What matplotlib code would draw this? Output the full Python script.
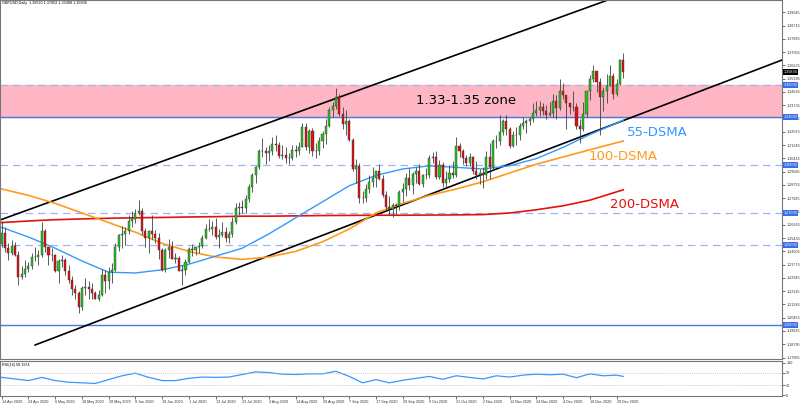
import numpy as np
import matplotlib
matplotlib.use("Agg")
import matplotlib.pyplot as plt
import matplotlib.transforms as mtransforms

# daily bars, 14 Apr 2020 .. 31 Dec 2020
opens = [1.2505, 1.2575, 1.2480, 1.2450, 1.2495, 1.2440, 1.2300, 1.2320, 1.2350, 1.2370,
         1.2425, 1.2425, 1.2440, 1.2590, 1.2490, 1.2440, 1.2435, 1.2340, 1.2400, 1.2405,
         1.2335, 1.2280, 1.2225, 1.2200, 1.2110, 1.2230, 1.2240, 1.2225, 1.2200, 1.2165,
         1.2185, 1.2315, 1.2275, 1.2330, 1.2345, 1.2490, 1.2565, 1.2570, 1.2590, 1.2650,
         1.2660, 1.2700, 1.2715, 1.2590, 1.2545, 1.2585, 1.2570, 1.2545, 1.2470, 1.2345,
         1.2470, 1.2490, 1.2415, 1.2420, 1.2335, 1.2345, 1.2395, 1.2475, 1.2470, 1.2485,
         1.2495, 1.2545, 1.2600, 1.2600, 1.2615, 1.2550, 1.2565, 1.2580, 1.2545, 1.2570,
         1.2645, 1.2730, 1.2740, 1.2730, 1.2790, 1.2865, 1.2935, 1.2985, 1.3085, 1.3085,
         1.3075, 1.3085, 1.3130, 1.3125, 1.3055, 1.3065, 1.3045, 1.3045, 1.3095, 1.3085,
         1.3115, 1.3240, 1.3110, 1.3215, 1.3085, 1.3085, 1.3150, 1.3195, 1.3245, 1.3345,
         1.3370, 1.3425, 1.3320, 1.3255, 1.3275, 1.3155, 1.2975, 1.2995, 1.2795, 1.2795,
         1.2850, 1.2895, 1.2920, 1.2960, 1.2915, 1.2815, 1.2735, 1.2725, 1.2750, 1.2745,
         1.2830, 1.2850, 1.2920, 1.2875, 1.2945, 1.2965, 1.2880, 1.2935, 1.2940, 1.3045,
         1.3050, 1.2925, 1.3000, 1.2890, 1.2915, 1.2950, 1.2940, 1.3120, 1.3085, 1.3045,
         1.3010, 1.3050, 1.2965, 1.2935, 1.2950, 1.2940, 1.3050, 1.2985, 1.3150, 1.3150,
         1.3205, 1.3275, 1.3225, 1.3120, 1.3185, 1.3190, 1.3245, 1.3260, 1.3275, 1.3285,
         1.3325, 1.3345, 1.3365, 1.3335, 1.3315, 1.3325, 1.3400, 1.3355, 1.3460, 1.3440,
         1.3385, 1.3360, 1.3365, 1.3245, 1.3225, 1.3320, 1.3460, 1.3535, 1.3585, 1.3520,
         1.3425, 1.3460, 1.3495, 1.3555, 1.3445, 1.3505, 1.3659]
highs = [1.2647, 1.2615, 1.2510, 1.2530, 1.2520, 1.2460, 1.2370, 1.2405, 1.2395, 1.2450,
         1.2485, 1.2470, 1.2645, 1.2600, 1.2490, 1.2480, 1.2445, 1.2415, 1.2440, 1.2420,
         1.2375, 1.2305, 1.2250, 1.2210, 1.2245, 1.2295, 1.2275, 1.2265, 1.2215, 1.2220,
         1.2350, 1.2345, 1.2365, 1.2385, 1.2510, 1.2570, 1.2620, 1.2610, 1.2690, 1.2710,
         1.2725, 1.2780, 1.2730, 1.2605, 1.2595, 1.2690, 1.2595, 1.2575, 1.2480, 1.2480,
         1.2540, 1.2525, 1.2450, 1.2430, 1.2375, 1.2410, 1.2485, 1.2505, 1.2490, 1.2520,
         1.2565, 1.2630, 1.2665, 1.2650, 1.2670, 1.2600, 1.2645, 1.2615, 1.2590, 1.2675,
         1.2760, 1.2770, 1.2780, 1.2810, 1.2880, 1.2950, 1.2995, 1.3100, 1.3170, 1.3115,
         1.3125, 1.3175, 1.3185, 1.3145, 1.3125, 1.3115, 1.3075, 1.3125, 1.3125, 1.3145,
         1.3265, 1.3265, 1.3225, 1.3230, 1.3135, 1.3175, 1.3210, 1.3285, 1.3365, 1.3395,
         1.3482, 1.3445, 1.3360, 1.3345, 1.3285, 1.3170, 1.3035, 1.3015, 1.2835, 1.2880,
         1.2935, 1.2985, 1.2965, 1.3005, 1.2935, 1.2835, 1.2805, 1.2765, 1.2765, 1.2845,
         1.2890, 1.2950, 1.2980, 1.2955, 1.2990, 1.3005, 1.2945, 1.2980, 1.3065, 1.3080,
         1.3085, 1.3030, 1.3020, 1.2965, 1.3000, 1.3025, 1.3175, 1.3140, 1.3100, 1.3065,
         1.3075, 1.3055, 1.3025, 1.2975, 1.2985, 1.3085, 1.3140, 1.3160, 1.3185, 1.3315,
         1.3290, 1.3310, 1.3235, 1.3210, 1.3235, 1.3265, 1.3300, 1.3285, 1.3300, 1.3390,
         1.3400, 1.3400, 1.3385, 1.3375, 1.3395, 1.3445, 1.3440, 1.3540, 1.3515, 1.3440,
         1.3390, 1.3465, 1.3385, 1.3285, 1.3395, 1.3465, 1.3565, 1.3625, 1.3590, 1.3545,
         1.3485, 1.3570, 1.3625, 1.3575, 1.3535, 1.3665, 1.3700]
lows = [1.2485, 1.2455, 1.2405, 1.2440, 1.2430, 1.2247, 1.2290, 1.2300, 1.2330, 1.2350,
        1.2400, 1.2375, 1.2425, 1.2455, 1.2375, 1.2400, 1.2330, 1.2265, 1.2360, 1.2315,
        1.2265, 1.2190, 1.2165, 1.2075, 1.2095, 1.2190, 1.2165, 1.2165, 1.2160, 1.2150,
        1.2180, 1.2200, 1.2225, 1.2265, 1.2340, 1.2460, 1.2480, 1.2500, 1.2570, 1.2610,
        1.2640, 1.2690, 1.2565, 1.2485, 1.2450, 1.2535, 1.2515, 1.2410, 1.2335, 1.2330,
        1.2420, 1.2410, 1.2390, 1.2335, 1.2250, 1.2315, 1.2390, 1.2430, 1.2440, 1.2450,
        1.2480, 1.2535, 1.2590, 1.2560, 1.2540, 1.2480, 1.2550, 1.2520, 1.2510, 1.2550,
        1.2630, 1.2690, 1.2700, 1.2700, 1.2770, 1.2830, 1.2890, 1.2975, 1.3050, 1.3005,
        1.3025, 1.3065, 1.3085, 1.3045, 1.3035, 1.3010, 1.3005, 1.3030, 1.3050, 1.3060,
        1.3110, 1.3095, 1.3075, 1.3055, 1.3045, 1.3065, 1.3105, 1.3130, 1.3240, 1.3300,
        1.3350, 1.3305, 1.3225, 1.3185, 1.3150, 1.2960, 1.2885, 1.2765, 1.2765, 1.2770,
        1.2825, 1.2865, 1.2865, 1.2905, 1.2800, 1.2720, 1.2690, 1.2675, 1.2690, 1.2720,
        1.2770, 1.2805, 1.2845, 1.2820, 1.2890, 1.2875, 1.2860, 1.2910, 1.2920, 1.3010,
        1.2915, 1.2910, 1.2865, 1.2865, 1.2895, 1.2920, 1.2925, 1.3050, 1.3005, 1.2995,
        1.2995, 1.2945, 1.2915, 1.2880, 1.2855, 1.2915, 1.2915, 1.2970, 1.3105, 1.3125,
        1.3185, 1.3190, 1.3105, 1.3115, 1.3125, 1.3155, 1.3225, 1.3200, 1.3250, 1.3270,
        1.3305, 1.3305, 1.3315, 1.3290, 1.3305, 1.3300, 1.3285, 1.3345, 1.3410, 1.3225,
        1.3320, 1.3335, 1.3225, 1.3135, 1.3210, 1.3300, 1.3405, 1.3520, 1.3455, 1.3190,
        1.3340, 1.3390, 1.3495, 1.3415, 1.3430, 1.3500, 1.3541]
closes = [1.2575, 1.2480, 1.2450, 1.2495, 1.2440, 1.2300, 1.2320, 1.2350, 1.2370, 1.2425,
          1.2425, 1.2440, 1.2590, 1.2490, 1.2440, 1.2435, 1.2340, 1.2400, 1.2405, 1.2335,
          1.2280, 1.2225, 1.2200, 1.2110, 1.2230, 1.2240, 1.2225, 1.2200, 1.2165, 1.2185,
          1.2315, 1.2275, 1.2330, 1.2345, 1.2490, 1.2565, 1.2570, 1.2590, 1.2650, 1.2660,
          1.2700, 1.2715, 1.2590, 1.2545, 1.2585, 1.2570, 1.2545, 1.2470, 1.2345, 1.2470,
          1.2490, 1.2415, 1.2420, 1.2335, 1.2345, 1.2395, 1.2475, 1.2470, 1.2485, 1.2495,
          1.2545, 1.2600, 1.2600, 1.2615, 1.2550, 1.2565, 1.2580, 1.2545, 1.2570, 1.2645,
          1.2730, 1.2740, 1.2730, 1.2790, 1.2865, 1.2935, 1.2985, 1.3085, 1.3085, 1.3075,
          1.3085, 1.3130, 1.3125, 1.3055, 1.3065, 1.3045, 1.3045, 1.3095, 1.3085, 1.3115,
          1.3240, 1.3110, 1.3215, 1.3085, 1.3085, 1.3150, 1.3195, 1.3245, 1.3345, 1.3370,
          1.3425, 1.3320, 1.3255, 1.3275, 1.3155, 1.2975, 1.2995, 1.2795, 1.2795, 1.2850,
          1.2895, 1.2920, 1.2960, 1.2915, 1.2815, 1.2735, 1.2725, 1.2750, 1.2745, 1.2830,
          1.2850, 1.2920, 1.2875, 1.2945, 1.2965, 1.2880, 1.2935, 1.2940, 1.3045, 1.3050,
          1.2925, 1.3000, 1.2890, 1.2915, 1.2950, 1.2940, 1.3120, 1.3085, 1.3045, 1.3010,
          1.3050, 1.2965, 1.2935, 1.2950, 1.2940, 1.3050, 1.2985, 1.3150, 1.3150, 1.3205,
          1.3275, 1.3225, 1.3120, 1.3185, 1.3190, 1.3245, 1.3260, 1.3275, 1.3285, 1.3325,
          1.3345, 1.3365, 1.3335, 1.3315, 1.3325, 1.3400, 1.3355, 1.3460, 1.3440, 1.3385,
          1.3360, 1.3365, 1.3245, 1.3225, 1.3320, 1.3460, 1.3535, 1.3585, 1.3520, 1.3425,
          1.3460, 1.3495, 1.3555, 1.3445, 1.3505, 1.3659, 1.3584]

date_labels = ["14 Apr 2020", "24 Apr 2020", "6 May 2020", "18 May 2020", "28 May 2020",
               "9 Jun 2020", "19 Jun 2020", "1 Jul 2020", "13 Jul 2020", "23 Jul 2020",
               "4 Aug 2020", "14 Aug 2020", "26 Aug 2020", "7 Sep 2020", "17 Sep 2020",
               "29 Sep 2020", "9 Oct 2020", "21 Oct 2020", "2 Nov 2020", "12 Nov 2020",
               "24 Nov 2020", "4 Dec 2020", "16 Dec 2020", "29 Dec 2020"]
label_step = 8

# moving averages read every 8 bars
ma_idx = [0, 8, 16, 24, 32, 40, 48, 56, 64, 72, 80, 88, 96, 104, 112, 120, 128, 136,
          144, 152, 160, 168, 176, 186]
sma55 = [1.2610, 1.2550, 1.2480, 1.2400, 1.2330, 1.2325, 1.2345, 1.2380, 1.2430, 1.2480,
         1.2570, 1.2670, 1.2770, 1.2870, 1.2935, 1.2975, 1.2995, 1.2985, 1.2975, 1.2995,
         1.3040, 1.3110, 1.3190, 1.3280]
sma100 = [1.2850, 1.2810, 1.2760, 1.2700, 1.2640, 1.2580, 1.2510, 1.2460, 1.2425, 1.2410,
          1.2425, 1.2460, 1.2520, 1.2600, 1.2700, 1.2760, 1.2810, 1.2850, 1.2895, 1.2950,
          1.3005, 1.3050, 1.3095, 1.3150]
sma200 = [1.2640, 1.2650, 1.2658, 1.2663, 1.2667, 1.2670, 1.2672, 1.2675, 1.2677, 1.2680,
          1.2680, 1.2682, 1.2684, 1.2685, 1.2686, 1.2686, 1.2687, 1.2688, 1.2690, 1.2700,
          1.2720, 1.2745, 1.2780, 1.2845]

# RSI(14) read every 4 bars
rsi_idx = list(range(0, 185, 4)) + [186]
rsi = [55, 50, 45, 55, 45, 40, 38, 36, 48, 60, 68, 55, 45, 45, 52, 56, 55, 56, 64, 72,
       70, 65, 64, 66, 66, 74, 58, 38, 48, 38, 46, 52, 58, 49, 60, 55, 50, 60, 56, 62,
       65, 63, 65, 54, 66, 60, 62, 58]

# channel anchors (bar, price)
upper_line = ([-0.5, 181.4], [1.2656, 1.4031])
lower_line = ([10.0, 233.5], [1.1875, 1.3656])

zone = (1.33, 1.35)
dashed_levels = [1.35, 1.30, 1.27, 1.25]
solid_levels = [1.33, 1.20]
price_ticks = [1.39545, 1.38715, 1.37885, 1.37055, 1.36225, 1.35395, 1.34565, 1.33735,
               1.32905, 1.32075, 1.31245, 1.30415, 1.29585, 1.28755, 1.27925, 1.27095,
               1.26265, 1.25435, 1.24605, 1.23775, 1.22945, 1.22115, 1.21285, 1.20455,
               1.19625, 1.18795, 1.17965]
last_price = 1.35836

small = dict(family="Liberation Sans", fontsize=2.7)

n = len(closes)
x = np.arange(n)
o = np.array(opens)
h = np.array(highs)
l = np.array(lows)
c = np.array(closes)

fig = plt.figure(figsize=(8.02, 4.07), dpi=100)
ax = fig.add_axes([0.0, 1 - 359 / 407, 782 / 802, 359 / 407])
ax2 = fig.add_axes([0.0, 1 - 396 / 407, 782 / 802, 35 / 407])

xmin, xmax = -0.51, 233.5
ax.set_xlim(xmin, xmax)
ax.set_ylim(1.17875, 1.4031)

ax.axhspan(zone[0], zone[1], color="#ffb6c4", zorder=0)
for lv in dashed_levels:
    ax.axhline(lv, color="#9fb4f0", lw=0.9, ls=(0, (6, 4)), zorder=1)
for lv in solid_levels:
    ax.axhline(lv, color="#4a78e0", lw=1.0, zorder=1)

ax.plot(*upper_line, color="black", lw=1.2, zorder=2)
ax.plot(*lower_line, color="black", lw=1.2, zorder=2)

ax.plot(ma_idx, sma200, color="#e3120b", lw=1.2, zorder=3)
ax.plot(ma_idx, sma100, color="#ff9a1f", lw=1.2, zorder=3)
ax.plot(ma_idx, sma55, color="#3399ff", lw=1.0, zorder=3)

up = c >= o
ax.vlines(x, l, h, color="#404040", lw=0.6, zorder=4)
ax.bar(x[up], (c - o)[up], bottom=o[up], width=0.62, color="#22c322",
       edgecolor="#333333", linewidth=0.3, zorder=5)
ax.bar(x[~up], (o - c)[~up], bottom=c[~up], width=0.62, color="#e01010",
       edgecolor="#333333", linewidth=0.3, zorder=5)

ax.text(124, 1.3402, "1.33-1.35 zone", fontsize=9.5, va="center", ha="left", zorder=6)
ax.text(187, 1.3206, "55-DSMA", color="#3399ff", fontsize=9.5, va="center", zorder=6)
ax.text(175.5, 1.3050, "100-DSMA", color="#ff9a1f", fontsize=9.5, va="center", zorder=6)
ax.text(182, 1.2756, "200-DSMA", color="#e3120b", fontsize=9.5, va="center", zorder=6)
ax.text(0.003, 0.996, "GBPUSD,Daily  1.36590 1.37002 1.35408 1.35836", transform=ax.transAxes,
        va="top", ha="left", **small)

ax.yaxis.tick_right()
ax.set_yticks(price_ticks)
ax.set_yticklabels([f"{t:.5f}" for t in price_ticks], **small)
ax.tick_params(axis="y", length=2, width=0.5, pad=1.0, colors="#333333")
ax.set_xticks([])

trans = mtransforms.blended_transform_factory(ax.transAxes, ax.transData)
for lv in dashed_levels + solid_levels:
    ax.text(1.002, lv, f"{lv:.5f}", transform=trans, color="white",
            va="center", ha="left", clip_on=False, zorder=10,
            bbox=dict(boxstyle="square,pad=0.25", fc="#3a6ee8", ec="none"), **small)
ax.text(1.002, last_price, f"{last_price:.5f}", transform=trans, color="white",
        va="center", ha="left", clip_on=False, zorder=10,
        bbox=dict(boxstyle="square,pad=0.25", fc="black", ec="none"), **small)

for a in (ax, ax2):
    for s in a.spines.values():
        s.set_color("#777777")
        s.set_linewidth(0.8)

ax2.set_xlim(xmin, xmax)
ax2.set_ylim(-3, 106)
ax2.plot(rsi_idx, rsi, color="#3399ff", lw=0.9)
for lv in (70, 30):
    ax2.axhline(lv, color="#bbbbbb", lw=0.6, ls=(0, (1, 1.5)))
ax2.yaxis.tick_right()
ax2.set_yticks([0, 30, 70, 100])
ax2.set_yticklabels(["0", "30", "70", "100"], **small)
ax2.tick_params(axis="y", length=2, width=0.5, pad=1.0, colors="#333333")
ax2.text(0.003, 0.95, "RSI(14) 58.1974", transform=ax2.transAxes,
         va="top", ha="left", **small)

tick_pos = np.arange(0, n, label_step)[:len(date_labels)]
ax2.set_xticks(tick_pos)
ax2.set_xticklabels(date_labels, ha="left", **small)
ax2.tick_params(axis="x", length=2, width=0.5, pad=1.0, colors="#333333")

fig.savefig("out.png", dpi=100)
